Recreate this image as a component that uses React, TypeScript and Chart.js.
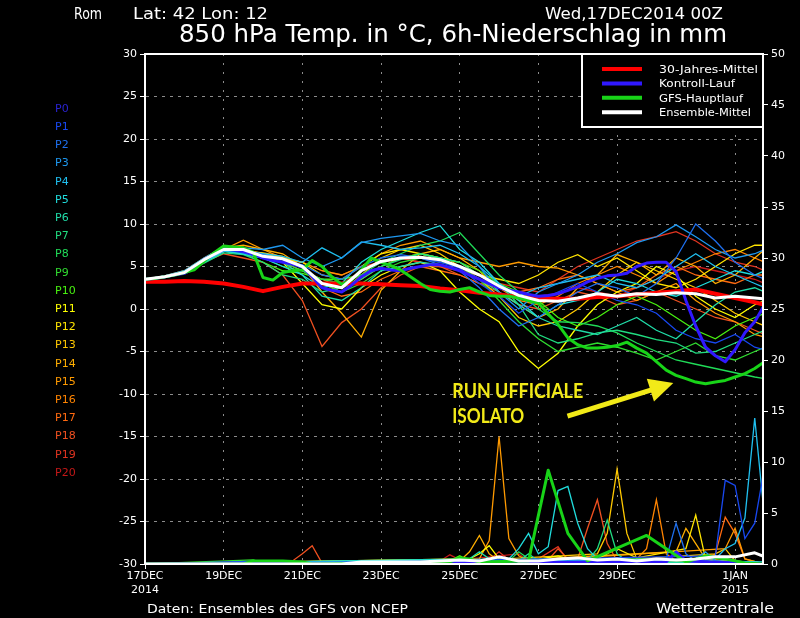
import React, { useEffect, useRef } from "react";
import { Chart, registerables } from "chart.js";

Chart.register(...registerables);

const FONT = '"DejaVu Sans", sans-serif';

// time axis in days after 17DEC2014 00Z
const DAYS6 = [
  0, 0.25, 0.5, 0.75, 1, 1.25, 1.5, 1.75, 2, 2.25, 2.5, 2.75, 3, 3.25, 3.5, 3.75,
  4, 4.25, 4.5, 4.75, 5, 5.25, 5.5, 5.75, 6, 6.25, 6.5, 6.75, 7, 7.25, 7.5, 7.75,
  8, 8.25, 8.5, 8.75, 9, 9.25, 9.5, 9.75, 10, 10.25, 10.5, 10.75, 11, 11.25, 11.5, 11.75,
  12, 12.25, 12.5, 12.75, 13, 13.25, 13.5, 13.75, 14, 14.25, 14.5, 14.75, 15, 15.25, 15.5, 15.75,
];
const DAYS12 = [
  0, 0.5, 1, 1.5, 2, 2.5, 3, 3.5, 4, 4.5, 5, 5.5, 6, 6.5, 7, 7.5,
  8, 8.5, 9, 9.5, 10, 10.5, 11, 11.5, 12, 12.5, 13, 13.5, 14, 14.5, 15, 15.5, 15.75,
];

const X_MAX = 15.71;
const X_TICK_DAYS = [0, 2, 4, 6, 8, 10, 12, 15];
const X_TICK_LABELS: (string | string[])[] = [
  ["17DEC", "2014"], "19DEC", "21DEC", "23DEC", "25DEC", "27DEC", "29DEC", ["1JAN", "2015"],
];

const MEMBER_NAMES = [
  "P0", "P1", "P2", "P3", "P4", "P5", "P6", "P7", "P8", "P9", "P10",
  "P11", "P12", "P13", "P14", "P15", "P16", "P17", "P18", "P19", "P20",
];
const MEMBER_COLORS = [
  "#2a22d0", "#1848f0", "#1e70f0", "#1e98f0", "#20c0f0", "#20dcdc", "#20dca8",
  "#20dc80", "#20dc58", "#30dc30", "#48f010", "#ffff00", "#ffe400", "#ffc800",
  "#ffae00", "#ff9a00", "#ff8400", "#ff6a10", "#f05020", "#e03420", "#c41818",
];

// 850 hPa temperature (°C), 12-hourly, members P1..P20
const T_P1 = [3.5, 3.8, 4.3, 5.6, 7.0, 6.6, 6.0, 5.6, 4.8, 3.0, 2.5, 4.5, 5.5, 6.2, 6.0, 5.5, 4.8, 3.0, 1.5, -0.5, 1.0, 2.0, 3.0, 2.0, 1.0, 0.5, -0.5, -2.5, -3.5, -4.0, -3.0, -4.5, -4.8];
const T_P2 = [3.5, 3.7, 4.4, 5.8, 7.2, 7.0, 6.4, 5.8, 5.2, 4.0, 3.5, 5.0, 6.0, 6.4, 6.0, 5.2, 4.5, 2.5, 0.0, -2.0, -1.0, 0.5, 2.0, 3.0, 2.5, 1.5, 3.0, 6.0, 10.0, 8.0, 5.5, 4.0, 3.5];
const T_P3 = [3.5, 3.9, 4.5, 6.0, 7.3, 7.2, 7.0, 7.5, 6.0, 5.0, 6.0, 7.8, 8.3, 8.6, 8.9, 8.0, 7.5, 5.0, 2.0, 0.0, 2.0, 3.0, 4.0, 5.5, 6.5, 7.8, 8.5, 9.9, 8.5, 7.0, 6.0, 6.5, 7.0];
const T_P4 = [3.5, 3.8, 4.2, 5.6, 6.8, 6.8, 6.5, 6.2, 5.5, 7.2, 6.0, 7.9, 7.5, 7.0, 7.2, 7.5, 6.5, 5.0, 3.0, 1.5, 2.5, 3.0, 3.5, 4.0, 3.0, 2.5, 3.5, 5.0, 6.5, 5.0, 4.0, 3.0, 2.5];
const T_P5 = [3.5, 3.8, 4.3, 5.5, 6.8, 6.5, 6.0, 5.0, 4.0, 2.5, 3.0, 5.5, 7.0, 8.0, 9.0, 9.8, 7.0, 5.5, 3.0, 1.0, -1.0, 0.5, 1.0, 2.0, 3.5, 3.0, 2.0, 1.5, 2.5, 3.5, 4.5, 4.0, 4.5];
const T_P6 = [3.5, 3.8, 4.3, 5.5, 6.8, 6.5, 6.0, 5.5, 4.0, 1.5, 1.0, 2.5, 4.5, 5.0, 5.5, 5.2, 4.5, 3.5, 2.0, 0.5, -1.0, -2.0, -2.5, -3.0, -2.0, -1.0, -2.5, -3.5, -1.5, 0.5, 2.0, 2.5, 2.0];
const T_P7 = [3.5, 3.7, 4.2, 5.4, 6.6, 6.4, 5.5, 4.0, 3.5, 2.0, 2.5, 3.5, 5.0, 5.8, 6.5, 6.0, 5.5, 4.0, 3.0, 0.5, -3.0, -4.0, -3.5, -2.8, -2.5, -3.0, -3.6, -4.0, -5.2, -5.0, -4.0, -3.0, -2.5];
const T_P8 = [3.5, 3.8, 4.4, 5.8, 7.0, 6.8, 6.2, 5.5, 4.5, 3.5, 3.0, 4.0, 5.5, 6.5, 7.5, 8.0, 9.0, 6.5, 4.0, 2.0, 0.0, -1.5, -1.6, -2.0, -2.8, -4.0, -5.0, -6.0, -6.5, -7.0, -7.5, -8.0, -8.2];
const T_P9 = [3.5, 3.8, 4.3, 5.6, 6.9, 6.6, 6.0, 5.0, 4.5, 3.0, 2.0, 3.0, 4.5, 5.5, 6.0, 5.5, 5.0, 3.5, 1.0, -1.5, -3.5, -5.0, -4.5, -4.0, -4.5, -5.2, -6.0, -5.0, -4.0, -5.5, -6.0, -5.0, -4.5];
const T_P10 = [3.5, 3.8, 4.3, 5.5, 6.8, 6.5, 5.5, 4.5, 4.2, 3.5, 3.5, 4.0, 5.0, 6.0, 6.5, 6.0, 5.5, 4.5, 3.0, 2.0, 1.0, -1.0, -2.0, -1.0, 0.5, 1.5, 0.5, -1.0, -2.5, -3.5, -2.0, -1.0, -0.5];
const T_P11 = [3.5, 3.8, 4.3, 5.6, 7.0, 6.8, 6.5, 5.5, 3.0, 0.5, 0.0, 2.5, 4.0, 5.0, 5.5, 4.5, 2.0, 0.0, -1.5, -5.0, -7.0, -5.2, -2.0, 0.5, 2.0, 3.0, 5.0, 4.0, 1.5, 0.0, -1.0, 0.5, 1.0];
const T_P12 = [3.5, 3.9, 4.5, 6.0, 7.3, 7.0, 6.5, 6.0, 5.5, 4.0, 3.5, 5.0, 6.5, 7.0, 6.5, 6.0, 5.5, 4.0, 3.5, 3.0, 4.0, 5.5, 6.4, 5.0, 6.0, 4.5, 3.0, 2.5, 3.5, 5.0, 6.5, 7.5, 7.5];
const T_P13 = [3.5, 3.8, 4.4, 5.7, 7.0, 6.8, 6.6, 6.2, 5.0, 3.0, 2.0, 4.0, 6.0, 7.0, 7.5, 6.5, 5.0, 3.5, 1.5, -1.0, -2.0, -1.5, 0.0, 2.0, 4.0, 5.5, 4.5, 3.5, 2.5, 1.0, -0.5, -1.5, -2.0];
const T_P14 = [3.5, 3.8, 4.3, 5.6, 7.2, 7.5, 7.0, 6.5, 5.0, 2.0, -0.5, -3.3, 2.2, 4.5, 6.5, 7.0, 6.0, 4.5, 2.0, 0.5, -1.0, 0.0, 2.5, 4.0, 6.4, 5.5, 4.0, 6.0, 5.0, 3.0, 4.0, 6.0, 7.0];
const T_P15 = [3.5, 3.8, 4.3, 5.5, 7.0, 8.1, 7.0, 6.0, 5.5, 4.5, 4.0, 5.0, 6.5, 7.5, 8.0, 7.0, 6.0, 5.5, 5.0, 5.5, 5.0, 4.8, 4.0, 3.0, 2.0, 1.0, 2.0, 3.0, 1.0, -0.5, -1.5, -3.0, -3.3];
const T_P16 = [3.5, 3.8, 4.2, 5.5, 6.8, 6.5, 6.0, 5.5, 4.5, 3.5, 2.5, 3.5, 5.0, 6.0, 6.5, 6.0, 5.0, 4.0, 2.5, 1.0, 0.5, 1.5, 3.0, 4.0, 5.0, 4.0, 3.0, 4.5, 5.5, 6.5, 7.0, 6.0, 5.5];
const T_P17 = [3.5, 3.8, 4.3, 5.5, 6.9, 6.7, 6.2, 5.8, 5.0, 2.5, 1.5, 2.0, 3.5, 4.5, 5.0, 4.5, 4.0, 3.0, 2.5, 2.0, 2.5, 3.5, 4.0, 3.0, 2.0, 2.5, 4.0, 5.0, 4.0, 3.5, 3.0, 4.0, 4.0];
const T_P18 = [3.5, 3.8, 4.3, 5.5, 6.5, 6.0, 5.5, 4.0, 1.0, -4.4, -1.6, 0.0, 2.5, 4.0, 5.0, 5.0, 4.0, 3.0, 2.0, 0.5, 0.0, 1.0, 2.0, 1.5, 0.5, 1.0, 2.0, 1.0, 0.0, -1.0, -1.5, -2.5, -3.0];
const T_P19 = [3.5, 3.8, 4.3, 5.7, 7.0, 6.8, 6.5, 6.0, 5.5, 4.5, 4.0, 5.0, 5.5, 6.0, 5.5, 5.0, 4.5, 4.0, 3.0, 2.5, 2.0, 3.5, 5.0, 6.0, 7.0, 8.0, 8.5, 9.1, 8.0, 6.5, 5.5, 5.0, 4.5];
const T_P20 = [3.5, 3.8, 4.3, 5.6, 7.0, 6.9, 6.3, 5.5, 4.5, 3.5, 3.0, 4.5, 5.5, 6.0, 5.5, 5.0, 4.5, 3.5, 2.5, 2.0, 1.5, 1.8, 2.5, 2.0, 1.5, 2.5, 3.5, 4.5, 5.0, 4.5, 4.0, 3.5, 3.0];
const MEMBER_TEMPS = [T_P1, T_P2, T_P3, T_P4, T_P5, T_P6, T_P7, T_P8, T_P9, T_P10, T_P11, T_P12, T_P13, T_P14, T_P15, T_P16, T_P17, T_P18, T_P19, T_P20];

// 6h precipitation (mm) as [day, mm] points, members P1..P20
const R_P1 = [[0, 0], [2.75, 0.2], [3, 0], [14.5, 0.8], [14.75, 8.2], [15, 7.7], [15.25, 2.5], [15.5, 4.0], [15.75, 9.5]];
const R_P2 = [[0, 0], [3.25, 0.3], [3.5, 0], [12.75, 0.2], [13.25, 0.5], [13.5, 4.0], [13.75, 1.0], [14, 0.3], [15.75, 0]];
const R_P3 = [[0, 0], [4.75, 0.1], [5.25, 0], [11, 0.4], [11.5, 0.2], [14, 0.5], [14.25, 1.2], [14.5, 0.3], [15.75, 0]];
const R_P4 = [[0, 0], [14.5, 0.5], [14.75, 1.5], [15, 2.0], [15.25, 4.5], [15.5, 14.3], [15.75, 4.5]];
const R_P5 = [[0, 0], [9.25, 0.5], [9.5, 1.5], [9.75, 3.0], [10, 1.0], [10.25, 1.7], [10.5, 7.2], [10.75, 7.6], [11, 4.0], [11.25, 1.5], [11.5, 0.5], [15.75, 0.2]];
const R_P6 = [[0, 0], [8.25, 0.5], [8.5, 1.2], [8.75, 0.5], [9.5, 0.3], [9.75, 1.0], [10, 0.3], [15.75, 0]];
const R_P7 = [[0, 0], [11.25, 0.3], [11.5, 1.5], [11.75, 4.3], [12, 1.0], [12.25, 0.3], [15.75, 0]];
const R_P8 = [[0, 0], [9.25, 0.3], [9.5, 1.2], [9.75, 0.5], [13, 0.5], [13.25, 0.2], [15.75, 0]];
const R_P9 = [[0, 0], [2.75, 0.4], [3, 0.1], [15.75, 0]];
const R_P10 = [[0, 0], [7.75, 0.3], [8, 0.8], [8.25, 0.3], [10.5, 0.4], [11, 0.2], [15.75, 0]];
const R_P11 = [[0, 0], [8.25, 0.5], [8.5, 1.0], [8.75, 1.8], [9, 0.5], [9.75, 0.3], [10.5, 0.8], [11, 0.2], [15.75, 0]];
const R_P12 = [[0, 0], [7.5, 0.3], [8, 0.3], [11.5, 0.5], [12, 1.5], [12.5, 0.6], [13.75, 1.5], [14, 4.8], [14.25, 0.5], [14.5, 0.2], [15.75, 0]];
const R_P13 = [[0, 0], [7.25, 0.2], [7.5, 0.4], [7.75, 0.2], [11.5, 1.0], [11.75, 3.0], [12, 9.3], [12.25, 3.0], [12.5, 0.5], [14.5, 1.0], [14.75, 1.5], [15, 0.3], [15.75, 0]];
const R_P14 = [[0, 0], [8, 0.3], [8.25, 1.2], [8.5, 2.8], [8.75, 1.0], [9, 0.3], [13.5, 1.2], [13.75, 3.5], [14, 2.0], [14.25, 0.5], [15.75, 0]];
const R_P15 = [[0, 0], [8.5, 0.5], [8.75, 2.3], [9, 12.5], [9.25, 2.5], [9.5, 0.8], [9.75, 0.3], [14.75, 1.5], [15, 3.5], [15.25, 0.5], [15.75, 0]];
const R_P16 = [[0, 0], [12.5, 0.5], [12.75, 1.5], [13, 6.3], [13.25, 1.0], [13.5, 0.3], [15.75, 0]];
const R_P17 = [[0, 0], [14.25, 0.4], [14.5, 1.0], [14.75, 4.6], [15, 3.0], [15.25, 0.5], [15.75, 0]];
const R_P18 = [[0, 0], [3.75, 0.3], [4, 1.0], [4.25, 1.8], [4.5, 0.1], [10.25, 0.4], [10.5, 1.5], [10.75, 0.5], [11, 0.5], [11.25, 3.5], [11.5, 6.3], [11.75, 2.0], [12, 0.3], [15.75, 0]];
const R_P19 = [[0, 0], [8.75, 0.4], [9, 1.2], [9.25, 0.4], [10, 0.5], [10.5, 1.7], [10.75, 0.3], [15.75, 0]];
const R_P20 = [[0, 0], [7.5, 0.3], [7.75, 0.9], [8, 0.4], [9.5, 1.0], [9.75, 0.3], [15.75, 0]];
const MEMBER_PRECIP = [R_P1, R_P2, R_P3, R_P4, R_P5, R_P6, R_P7, R_P8, R_P9, R_P10, R_P11, R_P12, R_P13, R_P14, R_P15, R_P16, R_P17, R_P18, R_P19, R_P20];

// 30-year mean (12-hourly)
const T_CLIMATE = [3.2, 3.2, 3.3, 3.2, 3.0, 2.6, 2.1, 2.6, 3.0, 3.0, 3.0, 3.0, 2.9, 2.8, 2.7, 2.4, 2.2, 1.9, 1.7, 1.4, 1.3, 1.2, 1.2, 1.4, 1.5, 1.7, 1.9, 2.1, 2.3, 1.8, 1.3, 0.8, 0.5];
// ensemble mean (12-hourly)
const T_MEAN = [3.5, 3.8, 4.3, 5.8, 7.0, 7.0, 6.2, 5.9, 5.0, 3.0, 2.5, 4.5, 5.6, 6.0, 6.1, 5.8, 5.0, 4.0, 2.7, 1.6, 1.0, 0.9, 1.3, 1.8, 1.5, 1.8, 1.7, 1.9, 1.8, 1.3, 1.5, 1.3, 1.2];
// control run (6-hourly)
const T_CONTROL = [
  3.5, 3.6, 3.8, 4.0, 4.2, 4.8, 5.8, 6.5, 7.0, 7.0, 6.8, 6.5, 6.0, 5.7, 5.5, 5.3,
  5.0, 3.8, 2.5, 2.2, 2.0, 2.8, 3.8, 4.5, 4.8, 4.6, 4.5, 4.8, 5.0, 5.2, 5.2, 4.9,
  4.5, 4.0, 3.5, 3.0, 2.5, 2.2, 2.0, 1.7, 1.5, 1.6, 1.8, 2.2, 2.6, 3.2, 3.6, 3.9,
  4.0, 4.2, 5.0, 5.4, 5.5, 5.5, 4.4, 1.0, -2.0, -4.5, -5.5, -6.2, -4.8, -2.8, -1.5, 0.5,
];
// GFS main run (6-hourly)
const T_GFS = [
  3.5, 3.6, 3.8, 4.0, 4.3, 4.6, 5.6, 6.6, 7.4, 7.3, 7.2, 6.7, 3.7, 3.4, 4.3, 4.5,
  4.6, 5.7, 5.0, 3.8, 2.9, 3.4, 4.6, 6.0, 5.5, 5.1, 4.6, 3.8, 3.0, 2.3, 2.1, 2.0,
  2.3, 2.5, 2.0, 1.6, 1.5, 1.5, 1.3, 1.0, 0.7, -0.6, -1.8, -3.4, -4.2, -4.6, -4.6, -4.5,
  -4.3, -3.9, -4.6, -5.2, -6.2, -7.2, -7.8, -8.2, -8.6, -8.8, -8.6, -8.4, -8.0, -7.6, -7.0, -6.2,
];
const R_GFS = [[0, 0], [2.5, 0], [2.75, 0.3], [3.5, 0.3], [4, 0.2], [4.25, 0], [7.75, 0.2], [8, 0.6], [8.25, 0.5], [8.5, 0.2], [9.75, 0.3], [10.25, 9.2], [10.75, 3.0], [11.25, 0.3], [12.75, 2.8], [13.75, 0.2], [14.25, 0.8], [14.75, 0.5], [15.25, 0.1], [15.75, 0]];
const R_MEAN = [[0, 0], [5, 0], [5.5, 0.2], [7, 0.2], [8, 0.4], [8.5, 0.3], [9, 0.7], [9.5, 0.3], [10, 0.3], [10.5, 0.5], [11, 0.6], [11.5, 0.4], [12, 0.5], [12.5, 0.3], [13, 0.5], [13.5, 0.4], [14, 0.5], [14.5, 0.7], [15, 0.7], [15.5, 1.1], [15.75, 0.7]];
const R_CONTROL = [[0, 0], [13.25, 0.2], [13.5, 1.2], [13.75, 0.3], [15.75, 0]];

const LEGEND_LABELS = ["30-Jahres-Mittel", "Kontroll-Lauf", "GFS-Hauptlauf", "Ensemble-Mittel"];
const LEGEND_COLORS = ["#ff0000", "#3018ff", "#18d418", "#ffffff"];

const NOTE_LINES = ["RUN UFFICIALE", "ISOLATO"];
const NOTE_POS = [7.81, -10.5]; // day, °C (baseline of first line)
const ARROW_FROM = [10.74, -12.6];
const ARROW_TO = [13.43, -8.7];

function fitText(ctx: CanvasRenderingContext2D, text: string, x: number, y: number, w: number, size: number, color: string, weight = "normal", family = FONT) {
  ctx.save();
  ctx.font = `${weight} ${size}px ${family}`;
  ctx.fillStyle = color;
  ctx.textBaseline = "alphabetic";
  ctx.textAlign = "left";
  const mw = ctx.measureText(text).width || 1;
  ctx.translate(x, y);
  ctx.scale(w / mw, 1);
  ctx.fillText(text, 0, 0);
  ctx.restore();
}

const overlayPlugin = {
  id: "overlay",
  afterDraw(chart: any) {
    const { ctx, chartArea: a, scales } = chart;
    ctx.save();
    // frame
    ctx.strokeStyle = "#ffffff";
    ctx.lineWidth = 2;
    ctx.strokeRect(a.left, a.top, a.right - a.left, a.bottom - a.top);

    // legend box
    const bw = 181, bh = 73;
    const bl = a.right - bw, bt = a.top;
    ctx.fillStyle = "#000";
    ctx.fillRect(bl, bt, bw, bh);
    ctx.strokeStyle = "#fff";
    ctx.lineWidth = 2;
    ctx.strokeRect(bl, bt, bw, bh);
    const lw = [99, 76, 84, 92];
    LEGEND_LABELS.forEach((lab, i) => {
      const yy = bt + 15 + i * 14.4;
      ctx.strokeStyle = LEGEND_COLORS[i];
      ctx.lineWidth = 4;
      ctx.beginPath();
      ctx.moveTo(bl + 20, yy);
      ctx.lineTo(bl + 60, yy);
      ctx.stroke();
      fitText(ctx, lab, bl + 77, yy + 4, lw[i], 11, "#fff");
    });

    // titles
    fitText(ctx, "Rom", 74, 19, 28, 15, "#fff");
    fitText(ctx, "Lat: 42 Lon: 12", 133, 19, 135, 15, "#fff");
    fitText(ctx, "Wed,17DEC2014 00Z", 545, 19, 178, 15, "#fff");
    fitText(ctx, "850 hPa Temp. in °C, 6h-Niederschlag in mm", 179, 42, 548, 25, "#fff");
    // footer
    fitText(ctx, "Daten: Ensembles des GFS von NCEP", 147, 613, 261, 13, "#fff");
    fitText(ctx, "Wetterzentrale", 656, 613, 118, 14, "#fff");

    // member labels
    ctx.font = `11px ${FONT}`;
    ctx.textAlign = "left";
    ctx.textBaseline = "middle";
    MEMBER_NAMES.forEach((n, i) => {
      ctx.fillStyle = MEMBER_COLORS[i];
      ctx.fillText(n, 55, 109 + 18.2 * i);
    });

    // annotation
    const xs = scales.x, ys = scales.y;
    const yellow = "#f2ea18";
    const nx = xs.getPixelForValue(NOTE_POS[0]);
    const ny = ys.getPixelForValue(NOTE_POS[1]);
    fitText(ctx, NOTE_LINES[0], nx, ny, 131, 20, yellow, "bold", "Lato, sans-serif");
    fitText(ctx, NOTE_LINES[1], nx, ny + 25, 72, 20, yellow, "bold", "Lato, sans-serif");
    const x1 = xs.getPixelForValue(ARROW_FROM[0]), y1 = ys.getPixelForValue(ARROW_FROM[1]);
    const x2 = xs.getPixelForValue(ARROW_TO[0]), y2 = ys.getPixelForValue(ARROW_TO[1]);
    const dx = x2 - x1, dy = y2 - y1, len = Math.hypot(dx, dy);
    const ux = dx / len, uy = dy / len, nxv = -uy, nyv = ux;
    const hl = 24, hw = 12;
    const bx = x2 - ux * hl, by = y2 - uy * hl;
    ctx.strokeStyle = yellow;
    ctx.lineWidth = 5;
    ctx.beginPath();
    ctx.moveTo(x1, y1);
    ctx.lineTo(bx + ux * 2, by + uy * 2);
    ctx.stroke();
    ctx.fillStyle = yellow;
    ctx.beginPath();
    ctx.moveTo(x2, y2);
    ctx.lineTo(bx + nxv * hw, by + nyv * hw);
    ctx.lineTo(bx - nxv * hw, by - nyv * hw);
    ctx.closePath();
    ctx.fill();
    ctx.restore();
  },
};

function pts(xs: number[], ys: number[]) {
  return ys.map((y, i) => ({ x: xs[i], y }));
}
function pairs(p: number[][]) {
  return p.map(([x, y]) => ({ x, y }));
}

export default function App() {
  const ref = useRef<HTMLCanvasElement>(null);
  useEffect(() => {
    if (!ref.current) return;
    const thin = { borderWidth: 1.3, pointRadius: 0, tension: 0, fill: false };
    const datasets: any[] = [];
    MEMBER_TEMPS.forEach((t, i) => {
      datasets.push({ ...thin, label: MEMBER_NAMES[i + 1], data: pts(DAYS12, t), borderColor: MEMBER_COLORS[i + 1], yAxisID: "y", order: 10 });
    });
    MEMBER_PRECIP.forEach((p, i) => {
      datasets.push({ ...thin, label: MEMBER_NAMES[i + 1] + " RR", data: pairs(p), borderColor: MEMBER_COLORS[i + 1], yAxisID: "y2", order: 10 });
    });
    const thick = { pointRadius: 0, tension: 0, fill: false, borderJoinStyle: "round" };
    datasets.push({ ...thick, label: "30-Jahres-Mittel", data: pts(DAYS12, T_CLIMATE), borderColor: LEGEND_COLORS[0], borderWidth: 4, yAxisID: "y", order: 4 });
    datasets.push({ ...thick, label: "Kontroll-Lauf", data: pts(DAYS6, T_CONTROL), borderColor: LEGEND_COLORS[1], borderWidth: 3, yAxisID: "y", order: 3 });
    datasets.push({ ...thick, label: "Kontroll-Lauf RR", data: pairs(R_CONTROL), borderColor: LEGEND_COLORS[1], borderWidth: 3, yAxisID: "y2", order: 3 });
    datasets.push({ ...thick, label: "GFS-Hauptlauf", data: pts(DAYS6, T_GFS), borderColor: LEGEND_COLORS[2], borderWidth: 3, yAxisID: "y", order: 2 });
    datasets.push({ ...thick, label: "GFS-Hauptlauf RR", data: pairs(R_GFS), borderColor: LEGEND_COLORS[2], borderWidth: 3, yAxisID: "y2", order: 2 });
    datasets.push({ ...thick, label: "Ensemble-Mittel", data: pts(DAYS12, T_MEAN), borderColor: LEGEND_COLORS[3], borderWidth: 3, yAxisID: "y", order: 1 });
    datasets.push({ ...thick, label: "Ensemble-Mittel RR", data: pairs(R_MEAN), borderColor: LEGEND_COLORS[3], borderWidth: 3, yAxisID: "y2", order: 1 });

    const tickFont = { family: FONT, size: 11 };
    const chart = new Chart(ref.current, {
      type: "line",
      data: { datasets },
      plugins: [overlayPlugin],
      options: {
        animation: false,
        responsive: false,
        devicePixelRatio: 1,
        layout: { padding: { top: 54, left: 0, right: 0, bottom: 0 } },
        plugins: { legend: { display: false }, tooltip: { enabled: false } },
        scales: {
          x: {
            type: "linear",
            min: 0,
            max: X_MAX,
            afterBuildTicks: (s: any) => {
              s.ticks = X_TICK_DAYS.map((v) => ({ value: v }));
            },
            afterFit: (s: any) => {
              s.height = 54;
            },
            ticks: {
              autoSkip: false,
              maxRotation: 0,
              minRotation: 0,
              color: "#fff",
              font: tickFont,
              padding: 1,
              callback: (_v: any, i: number) => X_TICK_LABELS[i],
            },
            grid: { color: "#8c8c8c", lineWidth: 1, tickColor: "#fff", tickLength: 5, tickWidth: 1 },
            border: { color: "#fff", width: 2, dash: [2, 7] },
          },
          y: {
            position: "left",
            min: -30,
            max: 30,
            afterFit: (s: any) => {
              s.width = 145;
            },
            ticks: { stepSize: 5, color: "#fff", font: tickFont, padding: 3 },
            grid: { color: "#8c8c8c", lineWidth: 1, tickColor: "#fff", tickLength: 5, tickWidth: 1 },
            border: { color: "#fff", width: 2, dash: [3, 5] },
          },
          y2: {
            position: "right",
            min: 0,
            max: 50,
            afterFit: (s: any) => {
              s.width = 37;
            },
            ticks: { stepSize: 5, color: "#fff", font: tickFont, padding: 3 },
            grid: { drawOnChartArea: false, color: "#fff", tickColor: "#fff", tickLength: 5, tickWidth: 1 },
            border: { color: "#fff", width: 2 },
          },
        },
      } as any,
    });
    return () => chart.destroy();
  }, []);

  return (
    <div style={{ position: "fixed", left: 0, top: 0, width: 800, height: 618, background: "#000" }}>
      <canvas ref={ref} width={800} height={618} style={{ display: "block", width: 800, height: 618 }} />
    </div>
  );
}
